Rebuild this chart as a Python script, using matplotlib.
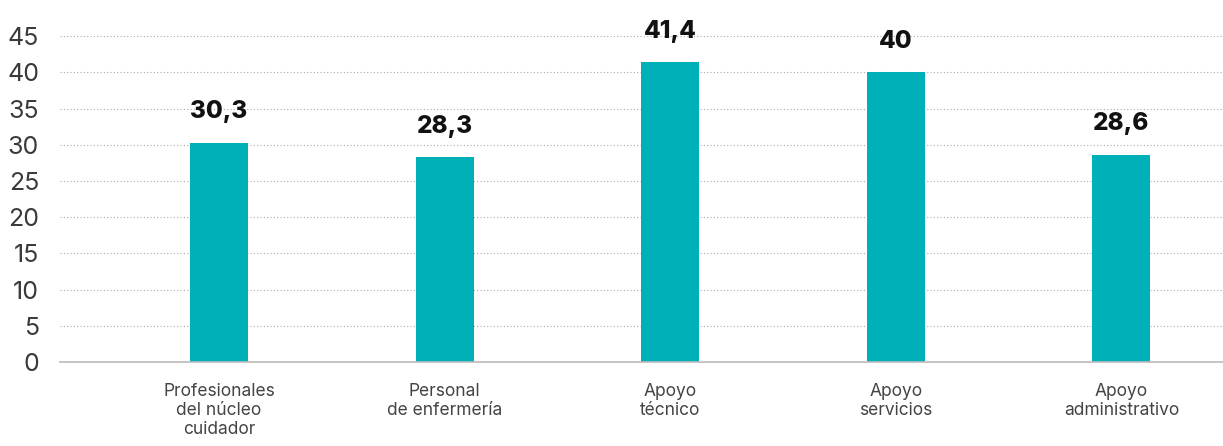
import matplotlib.pyplot as plt

categories = ["Profesionales\ndel núcleo\ncuidador", "Personal\nde enfermería",
              "Apoyo\ntécnico", "Apoyo\nservicios", "Apoyo\nadministrativo"]
values = [30.3, 28.3, 41.4, 40.0, 28.6]
value_labels = ["30,3", "28,3", "41,4", "40", "28,6"]
yticks = [0, 5, 10, 15, 20, 25, 30, 35, 40, 45]

plt.rcParams['font.family'] = ['Inter', 'DejaVu Sans']

fig = plt.figure(figsize=(12.23, 4.46), dpi=100)
ax = fig.add_axes([0.049, 0.188, 0.951, 0.731])

x = list(range(len(categories)))
ax.bar(x, values, width=0.257, color="#00b0b9", zorder=3)

# value labels above each bar
for xi, v, lab in zip(x, values, value_labels):
    ax.annotate(lab, (xi, v), xytext=(0, 14), textcoords="offset points",
                ha="center", va="bottom", fontsize=17.5, fontweight="heavy",
                color="#111111", annotation_clip=False)

ax.set_xlim(-0.705, 4.45)
ax.set_ylim(0, 45)
ax.set_yticks(yticks)
ax.set_yticklabels([str(t) for t in yticks], fontsize=18, color="#3a3a3a")
ax.set_xticks(x)
ax.set_xticklabels(categories, fontsize=12.5, color="#444444", linespacing=1.15)

ax.tick_params(axis="y", length=0, pad=15)
ax.tick_params(axis="x", length=0, pad=15)

ax.grid(axis="y", linestyle=(0, (1, 2)), color="#aaaaaa", linewidth=0.8, zorder=0)
for s in ["top", "right", "left"]:
    ax.spines[s].set_visible(False)
ax.spines["bottom"].set_color("#bbbbbb")
ax.spines["bottom"].set_linewidth(1.2)
ax.spines["bottom"].set_zorder(4)

fig.savefig("out.png", dpi=100)
